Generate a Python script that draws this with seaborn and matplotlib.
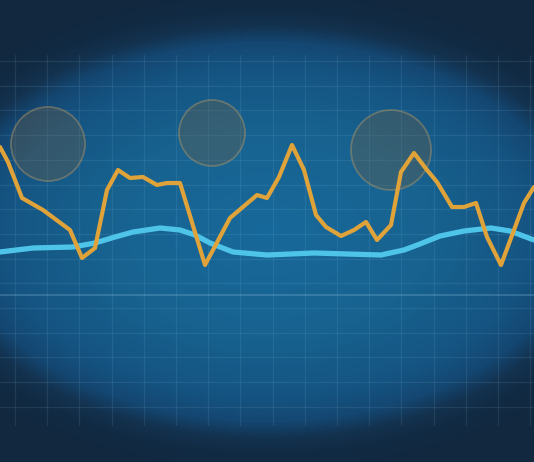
import numpy as np
import matplotlib
matplotlib.use("Agg")
import matplotlib.pyplot as plt
from matplotlib.colors import LinearSegmentedColormap
from matplotlib.patches import Circle
import seaborn as sns

W, H = 534, 462

# orange series (x position, height)
orange_x = [0, 8, 22, 43, 70, 82, 95, 107, 118, 130, 143, 157, 167, 180, 205, 230, 257, 267,
            279, 292, 304, 316, 326, 341, 354, 366, 377, 391, 401, 414, 427, 437, 452, 464,
            476, 487, 501, 514, 524, 534]
orange_y = [147, 162, 198, 210, 230, 258, 248, 190, 170, 178, 177, 185, 183, 183, 265, 218,
            195, 198, 177, 145, 170, 215, 227, 236, 230, 222, 240, 225, 172, 153, 170, 182,
            207, 207, 203, 237, 265, 230, 203, 187]

# blue series
blue_x = [0, 33, 73, 95, 115, 133, 160, 180, 195, 210, 233, 267, 314, 347, 381, 404, 420,
          440, 464, 491, 510, 534]
blue_y = [252, 248, 247, 243, 237, 232, 228, 230, 235, 243, 252, 255, 253, 254, 255, 250,
          244, 236, 231, 228, 231, 240]

# highlight circles
circle_x = [48, 212, 391]
circle_y = [144, 133, 150]
circle_r = [37, 33, 40]

sns.set_theme(style="dark")
fig = plt.figure(figsize=(W / 100, H / 100), dpi=100)
ax = fig.add_axes([0, 0, 1, 1])
ax.axis("off")

# background: dark navy with a soft elliptical blue glow
xx, yy = np.meshgrid(np.arange(W) + 0.5, np.arange(H) + 0.5)
d = np.sqrt(((xx - 267) / 330) ** 2 + ((yy - 232) / 205) ** 2)
t = np.clip(d / 1.2, 0, 1)
cmap = LinearSegmentedColormap.from_list(
    "glow", [(0.0, "#18699b"), (0.42, "#17628f"), (0.67, "#155482"),
             (0.77, "#144772"), (0.84, "#13324f"), (0.90, "#122b44"), (1.0, "#11283f")])
ax.imshow(t, cmap=cmap, vmin=0, vmax=1, extent=(0, W, H, 0), zorder=0, interpolation="bilinear")

# grid
for gx in np.arange(15, W, 32.2):
    ax.plot([gx, gx], [55, 425], color="#8fc3e0", alpha=0.12, lw=0.9, zorder=1)
for gy in np.arange(61, 420, 24.7):
    ax.plot([0, W], [gy, gy], color="#8fc3e0", alpha=0.12, lw=0.9, zorder=1)
ax.plot([0, W], [295, 295], color="#8fc3e0", alpha=0.3, lw=1.2, zorder=1)

for cx, cy, r in zip(circle_x, circle_y, circle_r):
    ax.add_patch(Circle((cx, cy), r, facecolor="#7a5f3c", alpha=0.3, edgecolor="none", zorder=2))
    ax.add_patch(Circle((cx, cy), r, facecolor="none", edgecolor="#b39766", alpha=0.45, lw=1.3, zorder=2))

sns.lineplot(x=blue_x, y=blue_y, ax=ax, color="#4ec4e8", lw=3.8, sort=False, zorder=3)
sns.lineplot(x=orange_x, y=orange_y, ax=ax, color="#e0a33a", lw=3.0, sort=False, zorder=4)
ax.set_xlim(0, W)
ax.set_ylim(H, 0)

fig.savefig("out.png", dpi=100)
